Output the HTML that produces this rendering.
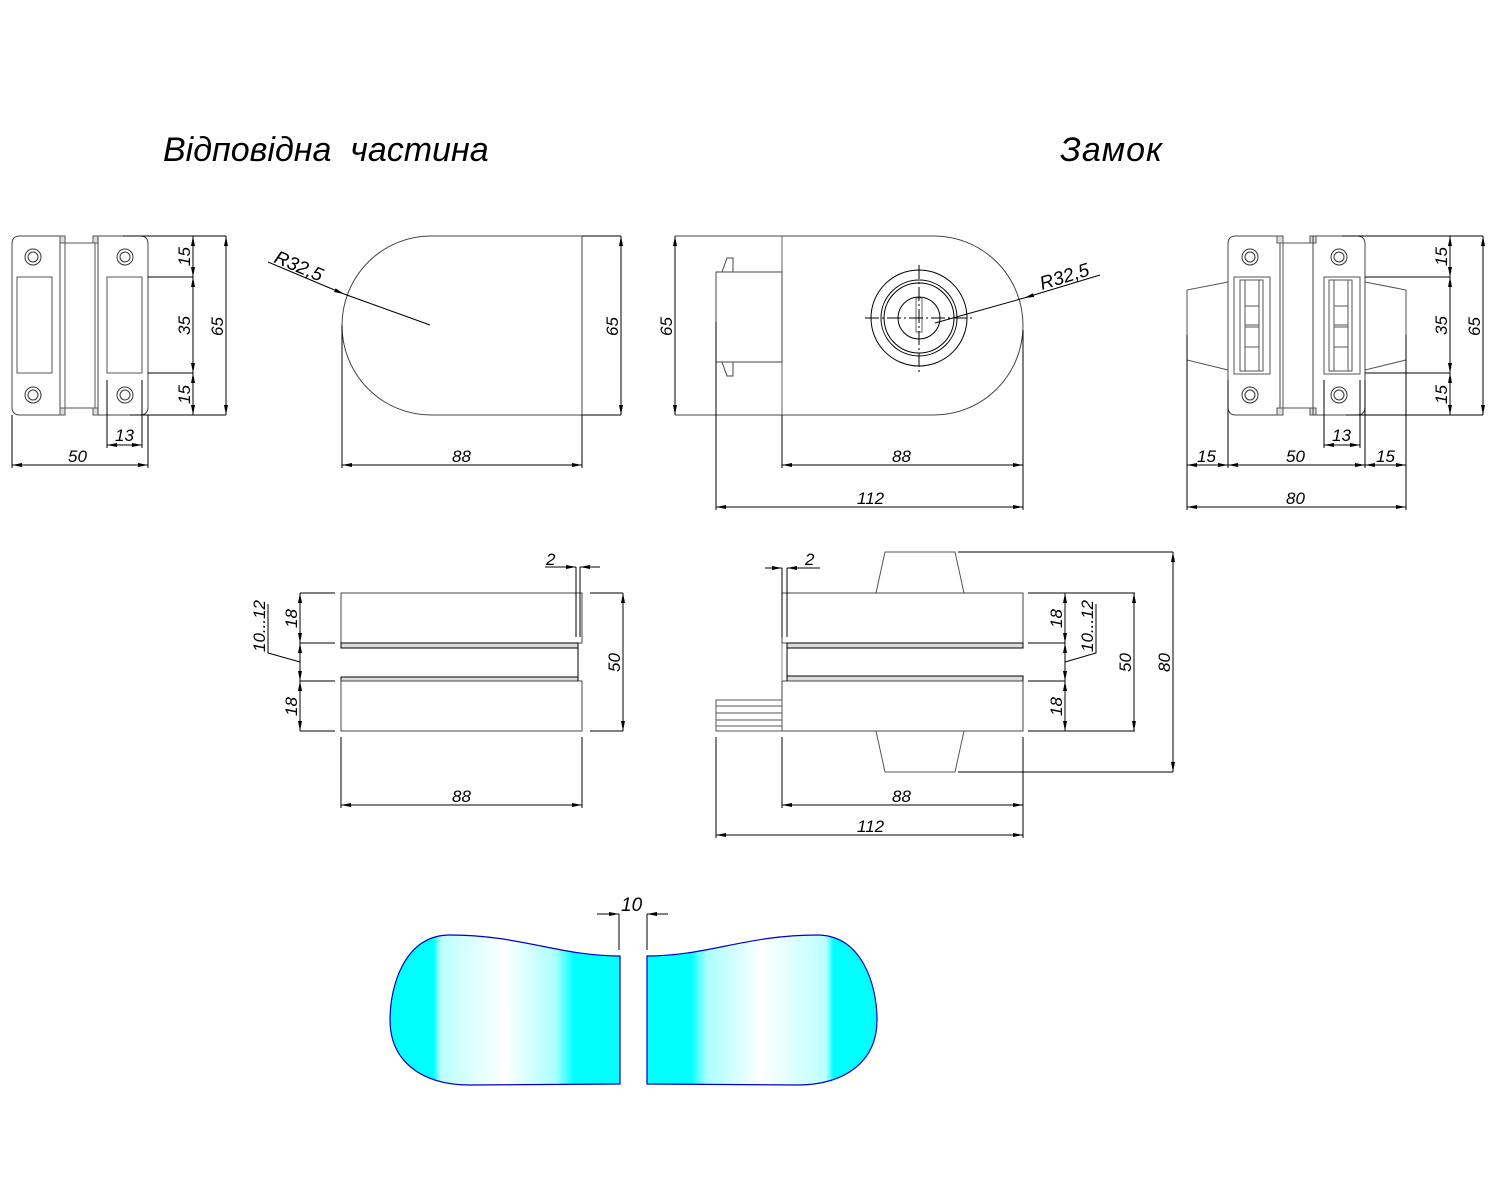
<!DOCTYPE html>
<html><head><meta charset="utf-8"><style>
html,body{margin:0;padding:0;background:#fff}
svg{display:block}
text{font-family:"Liberation Sans",sans-serif;font-style:italic;fill:#000}
</style></head><body>
<svg width="1500" height="1200" viewBox="0 0 1500 1200" xmlns="http://www.w3.org/2000/svg">
<defs>
<marker id="a" viewBox="0 0 10 4" refX="10" refY="2" markerWidth="10" markerHeight="4" orient="auto-start-reverse" markerUnits="userSpaceOnUse"><path d="M0,0 L10,2 L0,4z" fill="#000"/></marker>
<linearGradient id="gL" x1="390" x2="620" y1="0" y2="0" gradientUnits="userSpaceOnUse">
<stop offset="0" stop-color="#0ff"/><stop offset="0.19" stop-color="#0ff"/><stop offset="0.22" stop-color="#bff"/><stop offset="0.5" stop-color="#fff"/><stop offset="0.72" stop-color="#aff"/><stop offset="0.8" stop-color="#0ff"/><stop offset="1" stop-color="#0ff"/></linearGradient>
<linearGradient id="gR" x1="647" x2="877" y1="0" y2="0" gradientUnits="userSpaceOnUse">
<stop offset="0" stop-color="#0ff"/><stop offset="0.19" stop-color="#0ff"/><stop offset="0.26" stop-color="#aff"/><stop offset="0.5" stop-color="#fff"/><stop offset="0.78" stop-color="#bff"/><stop offset="0.81" stop-color="#0ff"/><stop offset="1" stop-color="#0ff"/></linearGradient>
</defs>

<text x="163" y="161" font-size="34">Відповідна&#160;&#160;частина</text>
<text x="1060" y="161" font-size="34" letter-spacing="1">Замок</text>

<g fill="none" stroke="#000" stroke-width="1">
<!-- View 1 strike -->
<path d="M60,236 H20 Q12,236 12,244 V407 Q12,415 20,415 H60 Z" stroke="#444"/>
<rect x="60" y="236" width="5" height="7" fill="#ddd" stroke="#555"/>
<rect x="60" y="408" width="5" height="7" fill="#ddd" stroke="#555"/>
<rect x="93" y="236" width="5" height="7" fill="#ddd" stroke="#555"/>
<rect x="93" y="408" width="5" height="7" fill="#ddd" stroke="#555"/>
<rect x="65" y="243" width="30" height="165" stroke="#555"/>
<path d="M98,236 H140 Q148,236 148,244 V407 Q148,415 140,415 H98 Z" stroke="#444"/>
<rect x="17" y="277" width="35" height="96" stroke="#555"/>
<rect x="107" y="277" width="35" height="96" stroke="#555"/>
<g stroke="#333"><circle cx="33" cy="257" r="8"/><circle cx="33" cy="257" r="5"/><circle cx="33" cy="395" r="8"/><circle cx="33" cy="395" r="5"/>
<circle cx="125" cy="257" r="8"/><circle cx="125" cy="257" r="5"/><circle cx="125" cy="395" r="8"/><circle cx="125" cy="395" r="5"/></g>
<path d="M123,236 H226 M148,277 H193 M148,373 H193 M130,415 H226"/>
<line x1="193" y1="236" x2="193" y2="277" marker-start="url(#a)" marker-end="url(#a)"/>
<line x1="193" y1="277" x2="193" y2="373" marker-start="url(#a)" marker-end="url(#a)"/>
<line x1="193" y1="373" x2="193" y2="415" marker-start="url(#a)" marker-end="url(#a)"/>
<line x1="226" y1="236" x2="226" y2="415" marker-start="url(#a)" marker-end="url(#a)"/>
<path d="M107,380 V448 M142,380 V448 M12,415 V468 M148,415 V468"/>
<line x1="107" y1="445" x2="142" y2="445" marker-start="url(#a)" marker-end="url(#a)"/>
<line x1="12" y1="465" x2="148" y2="465" marker-start="url(#a)" marker-end="url(#a)"/>

<!-- View 2 -->
<path d="M582,236 H431 A89,89.5 0 0 0 431,415 H582 Z" stroke="#444"/>
<path d="M582,236 H621 M582,415 H621 M342,325 V468 M582,415 V468"/>
<line x1="621" y1="236" x2="621" y2="415" marker-start="url(#a)" marker-end="url(#a)"/>
<line x1="342" y1="465" x2="582" y2="465" marker-start="url(#a)" marker-end="url(#a)"/>
<line x1="268" y1="262" x2="344" y2="294" marker-end="url(#a)"/>
<line x1="344" y1="294" x2="430" y2="325"/>

<!-- View 3 -->
<path d="M675,236 H934 A89,89.5 0 0 1 934,415 H675" stroke="#444"/>
<line x1="782" y1="236" x2="782" y2="415" stroke="#666"/>
<line x1="675" y1="236" x2="675" y2="415" marker-start="url(#a)" marker-end="url(#a)"/>
<rect x="716" y="272" width="66" height="90" stroke="#444"/>
<path d="M722,272 L727,258 H733 V272 M722,362 L727,376 H733 V362" stroke="#444"/>
<circle cx="919" cy="318" r="48"/><circle cx="919" cy="318" r="38"/><circle cx="919" cy="318" r="35"/><circle cx="919" cy="318" r="21"/>
<rect x="916" y="298" width="6" height="34" stroke="#666"/>
<path d="M865,318 H975 M919,265 V372" stroke-dasharray="14,3,2,3"/>
<line x1="935" y1="323" x2="1024" y2="298"/>
<line x1="1100" y1="275" x2="1024" y2="298" marker-end="url(#a)"/>
<path d="M716,322 V510 M782,415 V468 M1023,330 V510"/>
<line x1="782" y1="465" x2="1023" y2="465" marker-start="url(#a)" marker-end="url(#a)"/>
<line x1="716" y1="507" x2="1023" y2="507" marker-start="url(#a)" marker-end="url(#a)"/>

<!-- View 4 -->
<path d="M1228,282 L1187,290 V360 L1228,370" stroke="#555"/>
<path d="M1365,282 L1406,290 V360 L1365,370" stroke="#555"/>
<path d="M1280,236 H1236 Q1228,236 1228,244 V407 Q1228,415 1236,415 H1280 Z" stroke="#444"/>
<rect x="1277" y="236" width="6" height="7" fill="#ddd" stroke="#555"/>
<rect x="1277" y="408" width="6" height="7" fill="#ddd" stroke="#555"/>
<rect x="1310" y="236" width="6" height="7" fill="#ddd" stroke="#555"/>
<rect x="1310" y="408" width="6" height="7" fill="#ddd" stroke="#555"/>
<rect x="1283" y="243" width="30" height="165" stroke="#555"/>
<path d="M1313,236 H1357 Q1365,236 1365,244 V407 Q1365,415 1357,415 H1313 Z" stroke="#444"/>
<g stroke="#555">
<rect x="1234" y="277" width="36" height="97"/><rect x="1240" y="280" width="23" height="91"/><path d="M1245,280 V371 M1259,280 V371 M1245,306 H1259 M1245,325 H1259 M1245,327 H1259 M1245,347 H1259"/>
<rect x="1324" y="277" width="36" height="97"/><rect x="1329" y="280" width="23" height="91"/><path d="M1334,280 V371 M1348,280 V371 M1334,306 H1348 M1334,325 H1348 M1334,327 H1348 M1334,347 H1348"/>
</g>
<g stroke="#333"><circle cx="1250" cy="257" r="8"/><circle cx="1250" cy="257" r="5"/><circle cx="1250" cy="395" r="8"/><circle cx="1250" cy="395" r="5"/>
<circle cx="1339" cy="257" r="8"/><circle cx="1339" cy="257" r="5"/><circle cx="1339" cy="395" r="8"/><circle cx="1339" cy="395" r="5"/></g>
<path d="M1342,236 H1483 M1365,277 H1450 M1365,373 H1450 M1346,415 H1483"/>
<line x1="1450" y1="236" x2="1450" y2="277" marker-start="url(#a)" marker-end="url(#a)"/>
<line x1="1450" y1="277" x2="1450" y2="373" marker-start="url(#a)" marker-end="url(#a)"/>
<line x1="1450" y1="373" x2="1450" y2="415" marker-start="url(#a)" marker-end="url(#a)"/>
<line x1="1483" y1="236" x2="1483" y2="415" marker-start="url(#a)" marker-end="url(#a)"/>
<path d="M1187,335 V510 M1228,380 V468 M1324,380 V448 M1360,380 V448 M1365,380 V468 M1406,335 V510"/>
<line x1="1324" y1="445" x2="1360" y2="445" marker-start="url(#a)" marker-end="url(#a)"/>
<line x1="1187" y1="465" x2="1228" y2="465" marker-start="url(#a)" marker-end="url(#a)"/>
<line x1="1228" y1="465" x2="1365" y2="465" marker-start="url(#a)" marker-end="url(#a)"/>
<line x1="1365" y1="465" x2="1406" y2="465" marker-start="url(#a)" marker-end="url(#a)"/>
<line x1="1187" y1="507" x2="1406" y2="507" marker-start="url(#a)" marker-end="url(#a)"/>

<!-- Middle left -->
<rect x="341" y="593" width="241" height="50" stroke="#444"/>
<rect x="341" y="643" width="237" height="5" fill="#ddd"/>
<rect x="341" y="677" width="237" height="4" fill="#ddd"/>
<rect x="341" y="681" width="241" height="50" stroke="#444"/>
<line x1="578" y1="643" x2="578" y2="681"/>
<path d="M576,567 V637 M580,567 V637"/>
<line x1="545" y1="567" x2="576" y2="567" marker-end="url(#a)"/>
<line x1="600" y1="567" x2="580" y2="567" marker-end="url(#a)"/>
<path d="M300,593 H335 M300,643 H335 M300,681 H335 M300,731 H335 M590,593 H623 M590,731 H623"/>
<line x1="300" y1="593" x2="300" y2="643" marker-start="url(#a)" marker-end="url(#a)"/>
<line x1="300" y1="643" x2="300" y2="681" marker-start="url(#a)" marker-end="url(#a)"/>
<line x1="300" y1="681" x2="300" y2="731" marker-start="url(#a)" marker-end="url(#a)"/>
<path d="M300,662 L268,653 V604"/>
<line x1="623" y1="593" x2="623" y2="731" marker-start="url(#a)" marker-end="url(#a)"/>
<path d="M341,737 V808 M582,737 V808"/>
<line x1="341" y1="805" x2="582" y2="805" marker-start="url(#a)" marker-end="url(#a)"/>

<!-- Middle right -->
<path d="M876,593 L885,552 H955 L964,593 M876,731 L885,772 H955 L964,731" stroke="#555"/>
<rect x="782" y="593" width="241" height="50" stroke="#444"/>
<rect x="787" y="643" width="236" height="5" fill="#ddd"/>
<rect x="787" y="676" width="236" height="5" fill="#ddd"/>
<rect x="782" y="681" width="241" height="50" stroke="#444"/>
<line x1="782" y1="643" x2="782" y2="681" stroke="#888"/>
<line x1="787" y1="643" x2="787" y2="681"/>
<path d="M782,568 V637 M787,568 V637"/>
<line x1="765" y1="568" x2="782" y2="568" marker-end="url(#a)"/>
<line x1="820" y1="568" x2="787" y2="568" marker-end="url(#a)"/>
<rect x="716" y="700" width="66" height="31" stroke="#555"/>
<path d="M716,706 H782 M716,713 H782 M716,720 H782 M716,726 H782" stroke="#555"/>
<path d="M1028,593 H1135 M1028,643 H1065 M1028,681 H1065 M1028,731 H1135 M958,552 H1173 M958,772 H1173"/>
<line x1="1065" y1="593" x2="1065" y2="643" marker-start="url(#a)" marker-end="url(#a)"/>
<line x1="1065" y1="643" x2="1065" y2="681" marker-start="url(#a)" marker-end="url(#a)"/>
<line x1="1065" y1="681" x2="1065" y2="731" marker-start="url(#a)" marker-end="url(#a)"/>
<path d="M1065,662 L1096,653 V604"/>
<line x1="1134" y1="593" x2="1134" y2="731" marker-start="url(#a)" marker-end="url(#a)"/>
<line x1="1173" y1="552" x2="1173" y2="772" marker-start="url(#a)" marker-end="url(#a)"/>
<path d="M716,737 V838 M782,737 V808 M1023,737 V838"/>
<line x1="782" y1="805" x2="1023" y2="805" marker-start="url(#a)" marker-end="url(#a)"/>
<line x1="716" y1="835" x2="1023" y2="835" marker-start="url(#a)" marker-end="url(#a)"/>

<!-- handles dim -->
<path d="M619,914 V950 M647,914 V950"/>
<line x1="597" y1="914" x2="619" y2="914" marker-end="url(#a)"/>
<line x1="668" y1="914" x2="647" y2="914" marker-end="url(#a)"/>
</g>

<!-- handles -->
<path d="M620,956 C560,956 520,935 450,935 C405,935 390,985 390,1020 C390,1060 420,1085 470,1085 C540,1085 580,1084 620,1084 Z" fill="url(#gL)" stroke="#00c" stroke-width="1.2"/>
<path d="M647,956 C707,956 747,935 817,935 C862,935 877,985 877,1020 C877,1060 847,1085 797,1085 C727,1085 687,1084 647,1084 Z" fill="url(#gR)" stroke="#00c" stroke-width="1.2"/>

<!-- dimension texts -->
<g font-size="17">
<text x="68" y="462">50</text>
<text x="115" y="441">13</text>
<text x="452" y="462">88</text>
<text x="892" y="462">88</text>
<text x="857" y="504">112</text>
<text x="1197" y="462">15</text>
<text x="1286" y="462">50</text>
<text x="1376" y="462">15</text>
<text x="1332" y="441">13</text>
<text x="1286" y="504">80</text>
<text x="452" y="802">88</text>
<text x="892" y="802">88</text>
<text x="857" y="832">112</text>
<text x="621" y="911" font-size="19">10</text>
<text x="546" y="565">2</text>
<text x="805" y="565">2</text>
</g>
<g font-size="17">
<text transform="translate(190,266) rotate(-90)">15</text>
<text transform="translate(190,335) rotate(-90)">35</text>
<text transform="translate(190,404) rotate(-90)">15</text>
<text transform="translate(223,336) rotate(-90)">65</text>
<text transform="translate(618,336) rotate(-90)">65</text>
<text transform="translate(672,336) rotate(-90)">65</text>
<text transform="translate(1447,266) rotate(-90)">15</text>
<text transform="translate(1447,335) rotate(-90)">35</text>
<text transform="translate(1447,404) rotate(-90)">15</text>
<text transform="translate(1480,336) rotate(-90)">65</text>
<text transform="translate(297,628) rotate(-90)">18</text>
<text transform="translate(297,716) rotate(-90)">18</text>
<text transform="translate(265,652) rotate(-90)">10...12</text>
<text transform="translate(620,672) rotate(-90)">50</text>
<text transform="translate(1062,628) rotate(-90)">18</text>
<text transform="translate(1062,716) rotate(-90)">18</text>
<text transform="translate(1093,652) rotate(-90)">10...12</text>
<text transform="translate(1131,672) rotate(-90)">50</text>
<text transform="translate(1170,672) rotate(-90)">80</text>
<text transform="translate(273,262) rotate(23)" font-size="19">R32,5</text>
<text transform="translate(1042,290) rotate(-17)" font-size="19">R32,5</text>
</g>
</svg>
</body></html>
